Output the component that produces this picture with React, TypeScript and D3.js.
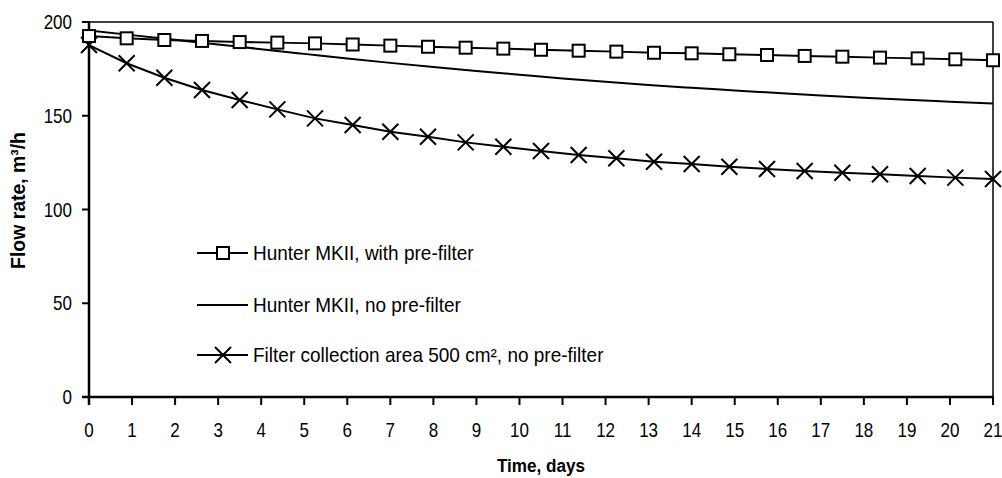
import * as d3 from "d3";

// sampling every 21 h (0.875 day) for the marker series
const markerDays = d3.range(25).map((i) => i * 0.875);
const withPreFilter = [
  192.5, 191.3, 190.4, 189.9, 189.3, 189.0, 188.6, 188.0, 187.4, 186.8, 186.3, 185.8, 185.2,
  184.7, 184.2, 183.6, 183.3, 182.8, 182.4, 181.9, 181.5, 181.0, 180.6, 180.1, 179.6,
];
const filterArea500 = [
  187.7, 178.0, 170.3, 163.7, 158.4, 153.4, 148.6, 145.1, 141.5, 138.8, 135.8, 133.5, 131.2,
  129.1, 127.3, 125.5, 124.3, 122.8, 121.6, 120.5, 119.6, 118.8, 117.9, 117.0, 116.3,
];
const lineDays = d3.range(22);
const noPreFilter = [
  195.5, 193.0, 190.5, 188.0, 185.5, 183.0, 180.5, 178.2, 176.0, 173.9, 171.9, 169.9, 168.1,
  166.4, 164.9, 163.5, 162.1, 160.8, 159.6, 158.5, 157.5, 156.5,
];
const xTicks = d3.range(22);
const yTicks = [0, 50, 100, 150, 200];
const legendLabels = [
  "Hunter MKII, with pre-filter",
  "Hunter MKII, no pre-filter",
  "Filter collection area 500 cm², no pre-filter",
];

const width = 1002;
const height = 478;
const marginLeft = 89;
const marginRight = 9;
const marginTop = 22;
const marginBottom = 81;
const font = "'Liberation Sans', Arial, sans-serif";

// Liberation Sans squeezed horizontally to stand in for a condensed face
function CText({
  x,
  y,
  anchor = "start",
  size = 20,
  squeeze = 0.85,
  bold = false,
  rotate = 0,
  children,
}: {
  x: number;
  y: number;
  anchor?: string;
  size?: number;
  squeeze?: number;
  bold?: boolean;
  rotate?: number;
  children: any;
}) {
  return (
    <text
      transform={`translate(${x},${y}) rotate(${rotate}) scale(${squeeze},1)`}
      textAnchor={anchor}
      fontSize={size}
      fontWeight={bold ? "bold" : "normal"}
    >
      {children}
    </text>
  );
}

function Square({ x, y }: { x: number; y: number }) {
  return <rect x={x - 6} y={y - 6} width={12} height={12} fill="#fff" stroke="#000" strokeWidth={2} />;
}

function Cross({ x, y }: { x: number; y: number }) {
  const s = 8;
  return (
    <path d={`M${x - s},${y - s}L${x + s},${y + s}M${x - s},${y + s}L${x + s},${y - s}`} stroke="#000" strokeWidth={2} />
  );
}

export default function App() {
  const x = d3.scaleLinear([0, 21], [marginLeft, width - marginRight]);
  const y = d3.scaleLinear([0, 200], [height - marginBottom, marginTop]);
  const line = d3
    .line<number>()
    .x((d, i) => x(markerDays[i]))
    .y((d) => y(d));
  const smooth = d3
    .line<number>()
    .x((d, i) => x(lineDays[i]))
    .y((d) => y(d))
    .curve(d3.curveMonotoneX);

  const x0 = x(0);
  const x1 = x(21);
  const y0 = y(0);
  const yTop = y(200);
  const legendX = 197;
  const legendY = [253, 305, 355];

  return (
    <svg width={width} height={height} style={{ position: "absolute", left: 0, top: 0 }} fontFamily={font}>
      <rect width={width} height={height} fill="#fff" />
      {/* frame */}
      <line x1={x0} x2={x1} y1={yTop} y2={yTop} stroke="#000" strokeWidth={1.5} />
      <line x1={x1} x2={x1} y1={yTop} y2={y0} stroke="#000" strokeWidth={1.5} />
      {/* y axis */}
      <line x1={x0} x2={x0} y1={yTop - 1} y2={y0 + 8} stroke="#000" strokeWidth={2.5} />
      {yTicks.map((t) => (
        <g key={t}>
          <line x1={x0 - 7} x2={x0} y1={y(t)} y2={y(t)} stroke="#000" strokeWidth={2} />
          <CText x={72} y={y(t) + 7}  anchor="end">
            {t}
          </CText>
        </g>
      ))}
      {/* x axis */}
      <line x1={x0 - 7} x2={x1 + 1} y1={y0} y2={y0} stroke="#000" strokeWidth={2.5} />
      {xTicks.map((t) => (
        <g key={t}>
          <line x1={x(t)} x2={x(t)} y1={y0} y2={y0 + 8} stroke="#000" strokeWidth={2} />
          <CText x={x(t)} y={437} anchor="middle">
            {t}
          </CText>
        </g>
      ))}
      <CText x={(x0 + x1) / 2} y={472} anchor="middle" size={19} squeeze={0.9} bold>
        Time, days
      </CText>
      <CText x={25} y={(yTop + y0) / 2 - 9} anchor="middle" size={20} squeeze={0.97} bold rotate={-90}>
        Flow rate, m³/h
      </CText>

      {/* series */}
      <path d={smooth(noPreFilter) ?? ""} fill="none" stroke="#000" strokeWidth={2} />
      <path d={line(filterArea500) ?? ""} fill="none" stroke="#000" strokeWidth={2} />
      <path d={line(withPreFilter) ?? ""} fill="none" stroke="#000" strokeWidth={2} />
      {filterArea500.map((v, i) => (
        <Cross key={i} x={x(markerDays[i])} y={y(v)} />
      ))}
      {withPreFilter.map((v, i) => (
        <Square key={i} x={x(markerDays[i])} y={y(v)} />
      ))}

      {/* legend */}
      {legendLabels.map((label, i) => (
        <g key={label}>
          <line x1={legendX} x2={legendX + 51} y1={legendY[i]} y2={legendY[i]} stroke="#000" strokeWidth={2} />
          {i === 0 && <Square x={legendX + 26} y={legendY[i]} />}
          {i === 2 && <Cross x={legendX + 26} y={legendY[i]} />}
          <CText x={legendX + 56} y={legendY[i] + 7} squeeze={0.95}>
            {label}
          </CText>
        </g>
      ))}
    </svg>
  );
}
